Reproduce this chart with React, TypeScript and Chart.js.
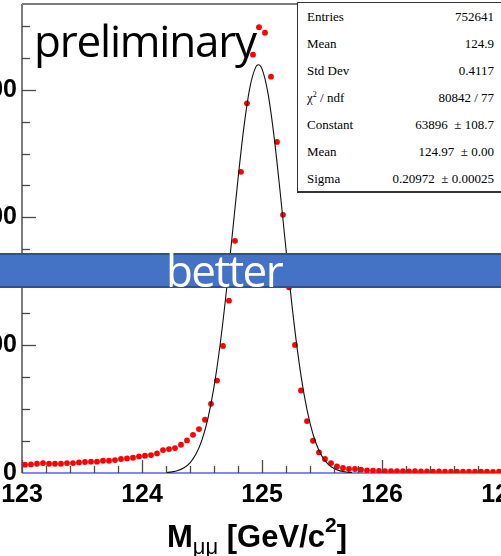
import React, { useEffect, useRef } from "react";
import { Chart, registerables } from "chart.js";

Chart.register(...registerables);

// ---- histogram: 80 bins of 0.05 GeV from 123 to 127 ----
const BIN_LOW = 123;
const BIN_WIDTH = 0.05;
const COUNTS = [
  1300, 1340, 1450, 1560, 1450, 1450, 1450, 1560, 1560, 1660,
  1720, 1770, 1770, 1920, 1920, 2030, 2190, 2280, 2390, 2600,
  2700, 2810, 3060, 3590, 3750, 3900, 4420, 5100, 5980, 6880,
  8330, 10830, 14470, 19890, 26970, 36340, 47130, 57860, 65470, 69780,
  68900, 62030, 51810, 40410, 29060, 20050, 12910, 8125, 5050, 3220,
  2190, 1560, 1030, 780, 625, 625, 520, 400, 360, 310,
  300, 290, 280, 270, 260, 270, 240, 250, 230, 240,
  220, 230, 220, 210, 220, 200, 210, 200, 190, 200,
];

const FIT_X = [
  124.2, 124.25, 124.3, 124.35, 124.4, 124.45, 124.5, 124.55, 124.6, 124.65,
  124.7, 124.75, 124.8, 124.85, 124.9, 124.95, 124.97, 125.0, 125.05, 125.1,
  125.15, 125.2, 125.25, 125.3, 125.35, 125.4, 125.45, 125.5, 125.55, 125.6,
  125.65, 125.7, 125.75,
];
const FIT_Y = [
  75, 177, 388, 808, 1590, 2955, 5188, 8600, 13480, 19950,
  27900, 36860, 46000, 54250, 60430, 63600, 63896, 63245, 59410, 52730,
  44210, 35010, 26200, 18530, 12380, 7810, 4655, 2623, 1396, 702,
  333, 149, 63,
];

// ---- axes ----
const X_MIN = 123;
const X_MAX = 127;
const Y_MIN = 0;
const Y_MAX = 73400;
const X_TICKS = [123, 124, 125, 126, 127];
const Y_TICKS = [0, 20000, 40000, 60000];
const X_MINOR_STEP = 0.2;
const Y_MINOR_STEP = 5000;

// ---- stats box ----
const STAT_LABELS = ["Entries", "Mean", "Std Dev", "χ2", "Constant", "Mean", "Sigma"];
const STAT_VALUES = ["752641", "124.9", "0.4117", "80842 / 77", "63896  ± 108.7", "124.97  ± 0.00", "0.20972  ± 0.00025"];

const AXIS_FONT = '"Liberation Sans", Arial, Helvetica, sans-serif';

const rootAxes = {
  id: "rootAxes",
  beforeDatasetsDraw(chart: any) {
    const { ctx, chartArea: a, scales } = chart;
    const y0 = scales.y.getPixelForValue(0);
    ctx.save();
    ctx.strokeStyle = "#8585f7";
    ctx.lineWidth = 2;
    ctx.beginPath();
    ctx.moveTo(a.left, y0);
    ctx.lineTo(a.right, y0);
    ctx.stroke();
    ctx.restore();
  },
  afterDatasetsDraw(chart: any) {
    const { ctx, chartArea: a, scales } = chart;
    const xs = scales.x;
    const ys = scales.y;
    const seg = (x1: number, y1: number, x2: number, y2: number) => {
      ctx.beginPath();
      ctx.moveTo(x1, y1);
      ctx.lineTo(x2, y2);
      ctx.stroke();
    };
    ctx.save();
    ctx.strokeStyle = "#7c7c7c";
    ctx.lineWidth = 2;
    seg(a.left, a.top, a.left, a.bottom);
    seg(a.left, a.top, a.right, a.top);
    ctx.strokeStyle = "#4a4a4a";
    ctx.lineWidth = 1.3;
    for (let k = 0; Y_MIN + k * Y_MINOR_STEP <= Y_MAX; k++) {
      const v = Y_MIN + k * Y_MINOR_STEP;
      const py = Math.round(ys.getPixelForValue(v)) + 0.5;
      const major = Y_TICKS.includes(v);
      if (v === 0) continue;
      seg(a.left, py, a.left + (major ? 14 : 8), py);
    }
    for (let k = 0; X_MIN + k * X_MINOR_STEP <= X_MAX + 1e-9; k++) {
      const v = X_MIN + k * X_MINOR_STEP;
      const px = Math.round(xs.getPixelForValue(v)) + 0.5;
      const major = X_TICKS.some((t) => Math.abs(t - v) < 1e-6);
      seg(px, a.bottom, px, a.bottom - (major ? 13 : 7));
    }
    ctx.restore();
  },
};

export default function App() {
  const ref = useRef<HTMLCanvasElement>(null);

  useEffect(() => {
    const histPoints = COUNTS.map((c, i) => ({ x: BIN_LOW + BIN_WIDTH * (i + 0.5), y: c }));
    const fitPoints = FIT_X.map((x, i) => ({ x, y: FIT_Y[i] }));
    const chart = new Chart(ref.current as HTMLCanvasElement, {
      type: "scatter",
      data: {
        datasets: [
          {
            label: "fit",
            data: fitPoints,
            showLine: true,
            borderColor: "#111111",
            borderWidth: 1.1,
            pointRadius: 0,
            cubicInterpolationMode: "monotone",
            order: 0,
          } as any,
          {
            label: "hist",
            data: histPoints,
            pointRadius: 2.9,
            pointBackgroundColor: "#ff0000",
            pointBorderColor: "#ff0000",
            pointBorderWidth: 0,
            order: 1,
          } as any,
        ],
      },
      options: {
        animation: false,
        responsive: false,
        devicePixelRatio: 1,
        events: [],
        layout: { padding: { left: 0, right: 38, top: 3, bottom: 0 } },
        plugins: { legend: { display: false }, tooltip: { enabled: false } },
        scales: {
          x: {
            type: "linear",
            min: X_MIN,
            max: X_MAX,
            grid: { display: false, drawTicks: false },
            border: { display: false },
            afterBuildTicks: (s: any) => {
              s.ticks = X_TICKS.map((v) => ({ value: v }));
            },
            afterFit: (s: any) => {
              s.height = 83;
              s.paddingLeft = 0;
              s.paddingRight = 0;
            },
            ticks: {
              padding: 7,
              color: "#000",
              maxRotation: 0,
              autoSkip: false,
              font: { family: AXIS_FONT, size: 25, weight: "bold", lineHeight: 1.2 },
              callback: (v: any) => String(v),
            },
          },
          y: {
            type: "linear",
            min: Y_MIN,
            max: Y_MAX,
            grid: { display: false, drawTicks: false },
            border: { display: false },
            afterBuildTicks: (s: any) => {
              s.ticks = Y_TICKS.map((v) => ({ value: v }));
            },
            afterFit: (s: any) => {
              s.width = 122;
              s.paddingTop = 0;
              s.paddingBottom = 0;
            },
            ticks: {
              padding: 5,
              color: "#000",
              autoSkip: false,
              font: { family: AXIS_FONT, size: 25, weight: "bold" },
              callback: (v: any) => String(v),
            },
          },
        },
      } as any,
      plugins: [rootAxes],
    });
    return () => chart.destroy();
  }, []);

  return (
    <div
      style={{
        position: "absolute",
        left: 0,
        top: 0,
        width: 501,
        height: 556,
        overflow: "hidden",
        background: "#ffffff",
      }}
    >
      <canvas
        ref={ref}
        width={640}
        height={556}
        style={{ position: "absolute", left: -100, top: 0, width: 640, height: 556 }}
      />

      {/* stats box */}
      <div
        style={{
          position: "absolute",
          left: 297,
          top: 2,
          width: 210,
          height: 188,
          background: "#fff",
          border: "1px solid #333",
          borderBottom: "2px solid #333",
          fontFamily: '"Liberation Serif", "Times New Roman", serif',
          fontSize: 13,
          color: "#000",
        }}
      >
        {STAT_LABELS.map((lab, i) => (
          <div
            key={i}
            style={{
              position: "absolute",
              left: 9,
              width: 187,
              top: i * 27,
              height: 27,
              lineHeight: "27px",
              display: "flex",
              justifyContent: "space-between",
              whiteSpace: "pre",
            }}
          >
            <span>
              {lab === "χ2" ? (
                <>
                  χ<sup style={{ fontSize: 8, verticalAlign: "baseline", position: "relative", top: -5 }}>2</sup> / ndf
                </>
              ) : (
                lab
              )}
            </span>
            <span>{STAT_VALUES[i]}</span>
          </div>
        ))}
      </div>

      {/* preliminary */}
      <div
        style={{
          position: "absolute",
          left: 34,
          top: 18,
          fontFamily: '"Open Sans", sans-serif',
          fontSize: 44,
          lineHeight: "44px",
          letterSpacing: -1.2,
          color: "#000",
          whiteSpace: "nowrap",
        }}
      >
        preliminary
      </div>

      {/* better band */}
      <div
        style={{
          position: "absolute",
          left: -2,
          top: 253,
          width: 510,
          height: 31,
          background: "#4472c4",
          borderTop: "2px solid #2f528f",
          borderBottom: "2px solid #2f528f",
        }}
      />
      <div
        style={{
          position: "absolute",
          left: 166,
          top: 248,
          fontFamily: '"Open Sans", sans-serif',
          fontSize: 44,
          lineHeight: "44px",
          letterSpacing: -1.6,
          color: "#ffffff",
          whiteSpace: "nowrap",
        }}
      >
        better
      </div>

      {/* x axis title */}
      <div
        style={{
          position: "absolute",
          left: 167,
          top: 521,
          fontFamily: AXIS_FONT,
          fontWeight: "bold",
          fontSize: 31,
          lineHeight: "31px",
          color: "#000",
          whiteSpace: "pre",
        }}
      >
        M
        <span style={{ fontSize: 22, fontWeight: "normal", position: "relative", top: 7 }}>μμ</span>
        {" [GeV/c"}
        <span style={{ fontSize: 21, position: "relative", top: -15 }}>2</span>]
      </div>
    </div>
  );
}
